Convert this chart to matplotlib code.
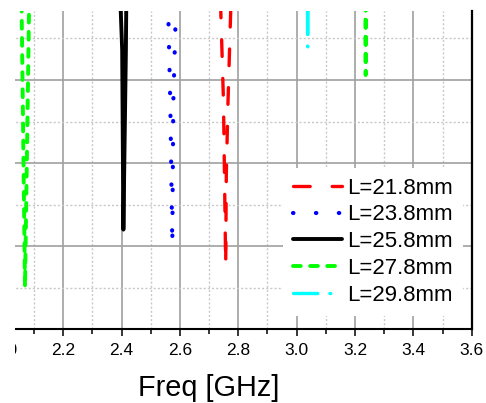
import matplotlib
matplotlib.use("Agg")
import numpy as np
import matplotlib.pyplot as plt
from matplotlib.ticker import MultipleLocator, FormatStrFormatter
from matplotlib.patches import Rectangle
from matplotlib.lines import Line2D

plt.rcParams['font.family'] = ['Liberation Sans', 'DejaVu Sans']

# S11 dips (freq in GHz, S11 in dB); -0.5 dB is above the visible top
freq_218 = [2.7389, 2.7492, 2.7567, 2.7588, 2.7646, 2.7749]
s11_218 = [-0.5, -12.7, -32.3, -21.4, -12.7, -0.5]

freq_238 = [2.5589, 2.5668, 2.5737, 2.5771, 2.5867]
s11_238 = [-0.5, -12.8, -29.8, -12.8, -0.5]

freq_258 = [2.3957, 2.4019, 2.4060, 2.4146, 2.4160]
s11_258 = [-0.5, -6.4, -28.0, -6.4, -0.5]

freq_278 = [2.0569, 2.0688, 2.0831, 3.2358, 3.2366, 3.2374]
s11_278 = [-0.5, -34.9, -0.5, -0.5, -9.4, -0.5]

freq_298 = [3.0370, 3.0378, 3.0386]
s11_298 = [-0.5, -6.0, -0.5]

labels = ['L=21.8mm', 'L=23.8mm', 'L=25.8mm', 'L=27.8mm', 'L=29.8mm']

W, H = 486, 403
fig = plt.figure(figsize=(W / 100, H / 100), dpi=100)
# axes: x=1.8 sits off the left edge, like the cropped original
ax_l, ax_r, ax_t, ax_b = -53.4, 471.7, 10.5, 329.3
ax = fig.add_axes([ax_l / W, 1 - ax_b / H, (ax_r - ax_l) / W, (ax_b - ax_t) / H])
ax.set_xlim(1.8, 3.6)
ax.set_ylim(-40, -1.63)


def dash_offset(xs, ys, idx, seq, lw, center):
    # offset (in lw units) so that pattern position `center` falls on point idx
    pts = ax.transData.transform(np.column_stack([xs, ys]))
    s = np.hypot(*np.diff(pts[:idx + 1], axis=0).T).sum() * 72 / fig.dpi
    period = sum(seq) * lw
    return ((center * lw - s) % period) / lw


styles = [
    dict(color='#ff0000', lw=2.4, dashes=(5, 6.6)),
    dict(color='#0000ff', lw=3.0, dashes=(0.1, 5.4)),
    dict(color='black', lw=2.8, dashes=None),
    dict(color='#00ff00', lw=2.8, dashes=(2.0, 2.4)),
    dict(color='#00ffff', lw=2.4, dashes=(7.3, 3.6, 0.3, 3.6)),
]
series = [(freq_218, s11_218), (freq_238, s11_238), (freq_258, s11_258),
          (freq_278, s11_278), (freq_298, s11_298)]

# where to pin the dash phase: (point index, position in pattern)
phase = [None, None, None, (4, 2.0 / 2), (1, 7.3 + 3.6 + 0.15)]

handles = []
for (xs, ys), st, ph, lab in zip(series, styles, phase, labels):
    kw = dict(color=st['color'], lw=st['lw'], dash_capstyle='round',
              solid_capstyle='round', solid_joinstyle='round')
    if st['dashes'] is None:
        ls = '-'
        hls = '-'
    else:
        off = 0
        if ph is not None:
            off = dash_offset(xs, ys, ph[0], st['dashes'], st['lw'], ph[1])
        ls = (off, st['dashes'])
        hls = (0, st['dashes'])
    ax.plot(xs, ys, ls=ls, **kw)
    handles.append(Line2D([], [], ls=hls, label=lab, **kw))

ax.xaxis.set_major_locator(MultipleLocator(0.2))
ax.xaxis.set_minor_locator(MultipleLocator(0.1))
ax.xaxis.set_major_formatter(FormatStrFormatter('%.1f'))
ax.yaxis.set_major_locator(MultipleLocator(10))
ax.yaxis.set_minor_locator(MultipleLocator(5))

ax.grid(which='major', color='#a0a0a0', lw=1.2, ls='-')
ax.grid(which='minor', color='#c8c8c8', lw=1.0, ls=(0, (1.5, 1.5)))
ax.set_axisbelow(True)

ax.spines['top'].set_visible(False)
ax.spines['bottom'].set_linewidth(1.5)
ax.spines['right'].set_linewidth(1.6)
ax.tick_params(axis='y', which='both', left=False, right=False, labelleft=False)
ax.tick_params(axis='x', which='major', direction='out', length=5, width=1.1,
               labelsize=12.5, pad=5)
ax.tick_params(axis='x', which='minor', direction='out', length=3.5, width=1.1)

ax.set_xlabel('Freq [GHz]', fontsize=20.8, labelpad=11.5)

ax.legend(handles=handles, loc='upper left', bbox_to_anchor=(283 / W, 1 - 167.5 / H),
          bbox_transform=fig.transFigure, fontsize=16, frameon=True,
          facecolor='white', edgecolor='none', framealpha=1,
          borderpad=0.45, labelspacing=0.26, handlelength=2.2,
          handletextpad=0.25, borderaxespad=0, fancybox=False)

# left strip of the original is blank
fig.add_artist(Rectangle((0, 0), 14.5 / W, 1, transform=fig.transFigure,
                         facecolor='white', edgecolor='none', zorder=10))

fig.savefig('out.png', dpi=100)
